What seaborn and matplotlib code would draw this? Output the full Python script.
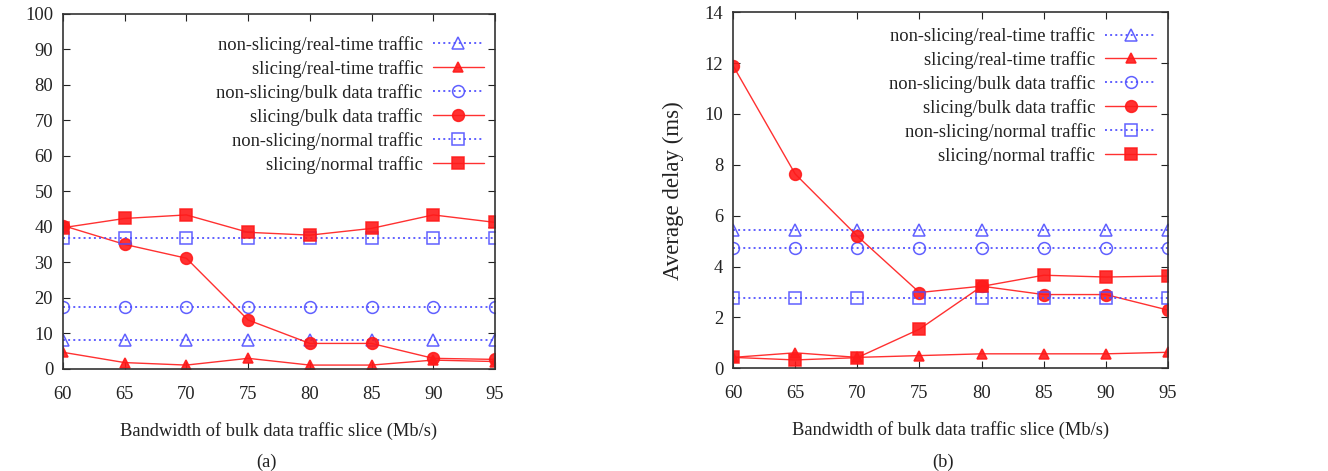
import numpy as np
import pandas as pd
import matplotlib
matplotlib.use("Agg")
import matplotlib.pyplot as plt
import seaborn as sns

bandwidth = [60, 65, 70, 75, 80, 85, 90, 95]
labels = ["non-slicing/real-time traffic", "slicing/real-time traffic",
          "non-slicing/bulk data traffic", "slicing/bulk data traffic",
          "non-slicing/normal traffic", "slicing/normal traffic"]

# panel (a)
a_ns_rt = [8.2, 8.2, 8.2, 8.2, 8.2, 8.2, 8.2, 8.2]
a_s_rt = [4.7, 1.8, 1.1, 3.0, 1.1, 1.1, 2.5, 2.1]
a_ns_bulk = [17.5, 17.5, 17.5, 17.5, 17.5, 17.5, 17.5, 17.5]
a_s_bulk = [40.4, 35.1, 31.2, 13.8, 7.2, 7.2, 3.0, 2.7]
a_ns_norm = [37.0, 37.0, 37.0, 37.0, 37.0, 37.0, 37.0, 37.0]
a_s_norm = [39.8, 42.4, 43.4, 38.5, 37.7, 39.6, 43.4, 41.3]

# panel (b)
b_ns_rt = [5.45, 5.45, 5.45, 5.45, 5.45, 5.45, 5.45, 5.45]
b_s_rt = [0.43, 0.61, 0.43, 0.50, 0.57, 0.57, 0.57, 0.63]
b_ns_bulk = [4.74, 4.74, 4.74, 4.74, 4.74, 4.74, 4.74, 4.74]
b_s_bulk = [11.9, 7.64, 5.2, 2.98, 3.23, 2.9, 2.9, 2.29]
b_ns_norm = [2.76, 2.76, 2.76, 2.76, 2.76, 2.76, 2.76, 2.76]
b_s_norm = [0.43, 0.33, 0.42, 1.54, 3.22, 3.66, 3.59, 3.63]

sns.set_style("ticks")
plt.rcParams["font.family"] = ["Liberation Serif", "DejaVu Serif"]

BLUE = "#4f4fff"
RED = "#ff1a1a"
styles = [
    dict(color=BLUE, ls=":", marker="^", mfc="none", mec=BLUE, ms=8.5, lw=1.4),
    dict(color=RED, ls="-", marker="^", mfc=RED, mec=RED, ms=7.5, lw=1.0),
    dict(color=BLUE, ls=":", marker="o", mfc="none", mec=BLUE, ms=8.5, lw=1.4),
    dict(color=RED, ls="-", marker="o", mfc=RED, mec=RED, ms=8.5, lw=1.0),
    dict(color=BLUE, ls=":", marker="s", mfc="none", mec=BLUE, ms=8.5, lw=1.4),
    dict(color=RED, ls="-", marker="s", mfc=RED, mec=RED, ms=8.5, lw=1.0),
]

fig = plt.figure(figsize=(13.28, 4.71), dpi=100)
axA = fig.add_axes([0.0474, 0.2166, 0.3253, 0.7537])
axB = fig.add_axes([0.5520, 0.2180, 0.3275, 0.7560])

FS = 13.3
TXT = "#222222"

def draw(ax, series, ylim, yticks, anchor_x, anchor_y):
    for lab, vals, st in zip(labels, series, styles):
        df = pd.DataFrame({"x": bandwidth, "y": vals})
        sns.lineplot(data=df, x="x", y="y", ax=ax, label=lab,
                     color=st["color"], linestyle=st["ls"], marker=st["marker"],
                     markerfacecolor=st["mfc"], markeredgecolor=st["mec"],
                     markersize=st["ms"], linewidth=st["lw"],
                     markeredgewidth=1.1, alpha=0.9)
    ax.set_xlim(60, 95)
    ax.set_ylim(*ylim)
    ax.set_xticks(bandwidth)
    ax.set_yticks(yticks)
    ax.tick_params(direction="in", top=True, right=True, labelsize=FS,
                   length=5, width=0.8, pad=7, colors=TXT)
    ax.tick_params(axis="x", pad=12)
    for s in ax.spines.values():
        s.set_linewidth(1.2)
        s.set_color("#333333")
    ax.set_xlabel("Bandwidth of bulk data traffic slice (Mb/s)", fontsize=FS,
                  labelpad=14, color=TXT)
    leg = ax.legend(loc="upper right", frameon=False, markerfirst=False,
                    fontsize=FS, handlelength=2.75, handletextpad=0.55,
                    labelspacing=0.33, borderaxespad=0.0,
                    bbox_to_anchor=(anchor_x, anchor_y))
    for t in leg.get_texts():
        t.set_color(TXT)

draw(axA, [a_ns_rt, a_s_rt, a_ns_bulk, a_s_bulk, a_ns_norm, a_s_norm],
     (0, 100), list(range(0, 101, 10)), 0.991, 0.959)
axA.set_ylabel("")
draw(axB, [b_ns_rt, b_s_rt, b_ns_bulk, b_s_bulk, b_ns_norm, b_s_norm],
     (0, 14), list(range(0, 15, 2)), 0.990, 0.979)
axB.set_ylabel("Average delay (ms)", fontsize=16.5, labelpad=15, color=TXT)

fig.text(0.201, 0.0, "(a)", fontsize=FS, ha="center", va="bottom", color=TXT)
fig.text(0.710, 0.0, "(b)", fontsize=FS, ha="center", va="bottom", color=TXT)

fig.savefig("out.png", dpi=100)
